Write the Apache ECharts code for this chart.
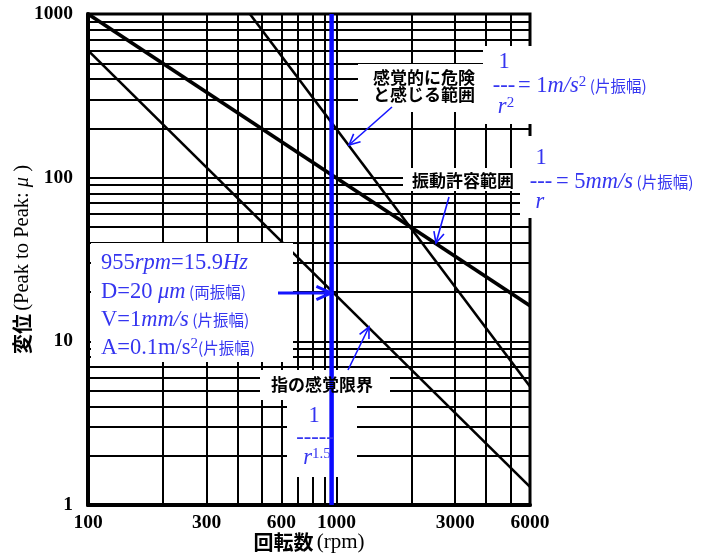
<!DOCTYPE html>
<html><head><meta charset="utf-8">
<script src="https://cdn.jsdelivr.net/npm/echarts@6/dist/echarts.min.js"></script>
<style>html,body{margin:0;padding:0;background:#fff}#c{width:701px;height:556px}</style>
</head><body><div id="c"></div>
<script>
// ---- data ----
const xTickLabels = [100, 300, 600, 1000, 3000, 6000];
const xGridValues = [100, 200, 300, 400, 500, 600, 700, 800, 900, 1000, 2000, 3000, 4000, 5000, 6000];
const yTickLabels = [1, 10, 100, 1000];
const yGridValues = [1, 2, 3, 4, 5, 6, 7, 8, 9, 10, 20, 30, 40, 50, 60, 70, 80, 90, 100, 200, 300, 400, 500, 600, 700, 800, 900, 1000];
// 1/r  (5mm/s)
const velocityRpm = [100, 6000];
const velocityDisp = [1000, 16.5];
// 1/r^2 (1m/s^2)
const accelRpm = [448, 6000];
const accelDisp = [1000, 5.3];
// 1/r^1.5 (finger sensing limit)
const fingerRpm = [100, 6000];
const fingerDisp = [600, 1.29];
// marker at 955 rpm
const markerRpm = [955, 955];
const markerDisp = [1, 1000];

const zip = (a, b) => a.map((v, i) => [v, b[i]]);
const serif = "'Liberation Serif','DejaVu Serif',serif";
const cjk = "'Noto Sans CJK JP','Noto Sans',sans-serif";
const blue = '#3535f0';
const arrowBlue = '#1515ff';

const chart = echarts.init(document.getElementById('c'), null, {renderer: 'canvas'});

const richBlue = {
  n: {fontFamily: serif, fontSize: 22.5, fill: blue},
  i: {fontFamily: serif, fontSize: 22.5, fontStyle: 'italic', fill: blue},
  sup: {fontFamily: serif, fontSize: 15, fill: blue, verticalAlign: 'top'},
  j: {fontFamily: cjk, fontSize: 15.5, fill: blue}
};

function txt(x, y, text, opts) {
  opts = opts || {};
  const align = opts.align || 'center';
  return {
    type: 'text', x: x, y: y, z: 30,
    style: Object.assign({
      text: text,
      align: align, textAlign: align,
      verticalAlign: 'middle', textVerticalAlign: 'middle',
      fill: opts.fill || '#000',
      font: opts.font || ('bold 17px ' + cjk)
    }, opts.rich ? {rich: opts.rich} : {})
  };
}
function rect(x, y, w, h) {
  return {type: 'rect', z: 5, shape: {x: x, y: y, width: w, height: h}, style: {fill: '#fff'}};
}
function arrow(x1, y1, x2, y2, w, head, spread) {
  const ang = Math.atan2(y2 - y1, x2 - x1);
  const h = head || 11, s = spread || 0.45;
  const p1 = [x2 - h * Math.cos(ang - s), y2 - h * Math.sin(ang - s)];
  const p2 = [x2 - h * Math.cos(ang + s), y2 - h * Math.sin(ang + s)];
  return [
    {type: 'line', z: 25, shape: {x1: x1, y1: y1, x2: x2, y2: y2}, style: {stroke: arrowBlue, lineWidth: w}},
    {type: 'polyline', z: 25, shape: {points: [p1, [x2, y2], p2]}, style: {stroke: arrowBlue, lineWidth: w, fill: 'none'}}
  ];
}

const graphics = [
  // white label boxes
  rect(358, 64, 126, 48),
  rect(483, 46, 190, 78),
  rect(403, 168, 118, 23),
  rect(520, 136, 181, 82),
  rect(91, 243, 202, 119),
  rect(260, 370, 130, 30),
  rect(287, 400, 70, 77),
  // black labels
  txt(424, 78, '感覚的に危険'),
  txt(424, 95, 'と感じる範囲'),
  txt(463, 181, '振動許容範囲'),
  txt(322, 385, '指の感覚限界'),
  // fraction 1/r^2
  txt(504, 62, '{n|1}', {rich: richBlue}),
  txt(504, 86, '{n|---}', {rich: richBlue}),
  txt(506, 107, '{i|r}{sup|2}', {rich: richBlue}),
  txt(518, 86, '{n|= 1}{i|m/s}{sup|2}{j| (片振幅)}', {rich: richBlue, align: 'left'}),
  // fraction 1/r
  txt(541, 158, '{n|1}', {rich: richBlue}),
  txt(541, 182, '{n|---}', {rich: richBlue}),
  txt(540, 202, '{i|r}', {rich: richBlue}),
  txt(556, 182, '{n|= 5}{i|mm/s}{j| (片振幅)}', {rich: richBlue, align: 'left'}),
  // fraction 1/r^1.5
  txt(314, 416, '{n|1}', {rich: richBlue}),
  txt(315, 438, '{n|-----}', {rich: richBlue}),
  txt(317, 458, '{i|r}{sup|1.5}', {rich: richBlue}),
  // info box
  txt(101, 263, '{n|955}{i|rpm}{n|=15.9}{i|Hz}', {rich: richBlue, align: 'left'}),
  txt(101, 292, '{n|D=20 }{i|μm}{j| (両振幅)}', {rich: richBlue, align: 'left'}),
  txt(101, 320, '{n|V=1}{i|mm/s}{j| (片振幅)}', {rich: richBlue, align: 'left'}),
  txt(101, 348, '{n|A=0.1m/s}{sup|2}{j|(片振幅)}', {rich: richBlue, align: 'left'})
]
  .concat(arrow(392, 107, 349, 145, 1.6, 12))
  .concat(arrow(449, 197, 436, 243, 1.6, 12))
  .concat(arrow(348, 370, 369, 327, 1.6, 12))
  .concat(arrow(278, 293, 331, 293, 3, 16, 0.42));

const option = {
  animation: false,
  backgroundColor: '#fff',
  grid: {left: 88, right: 171, top: 14, bottom: 51, show: true, borderColor: '#000', borderWidth: 3,
         backgroundColor: 'transparent', containLabel: false, outerBoundsMode: 'none'},
  xAxis: {
    type: 'log', logBase: 10, min: 100, max: 6000,
    axisLine: {show: true, onZero: false, lineStyle: {color: '#000', width: 4}},
    axisTick: {show: false, customValues: xGridValues},
    axisLabel: {customValues: xTickLabels, color: '#000', fontFamily: serif, fontWeight: 'bold', fontSize: 19.5,
                margin: 8, formatter: v => String(Math.round(v))},
    splitLine: {show: true, lineStyle: {color: '#000', width: 2}},
    minorTick: {show: false}, minorSplitLine: {show: false},
    name: '{c|回転数} {s|(rpm)}', nameLocation: 'middle', nameGap: 27, nameMoveOverlap: false,
    nameTextStyle: {rich: {c: {fontFamily: cjk, fontSize: 20, fontWeight: 'bold', color: '#000'},
                           s: {fontFamily: serif, fontSize: 21, color: '#000'}}}
  },
  yAxis: {
    type: 'log', logBase: 10, min: 1, max: 1000,
    axisLine: {show: true, onZero: false, lineStyle: {color: '#000', width: 4}},
    axisTick: {show: false, customValues: yGridValues},
    axisLabel: {customValues: yTickLabels, color: '#000', fontFamily: serif, fontWeight: 'bold', fontSize: 19.5,
                margin: 15, formatter: v => String(Math.round(v))},
    splitLine: {show: true, lineStyle: {color: '#000', width: 2}},
    minorTick: {show: false}, minorSplitLine: {show: false},
    name: '{c|変位} {s|(Peak to Peak: }{i|μ}{s| )}', nameLocation: 'middle', nameGap: 55, nameRotate: 90,
    nameMoveOverlap: false,
    nameTextStyle: {rich: {c: {fontFamily: cjk, fontSize: 20, fontWeight: 'bold', color: '#000'},
                           s: {fontFamily: serif, fontSize: 20.5, color: '#000'},
                           i: {fontFamily: serif, fontSize: 20.5, fontStyle: 'italic', color: '#000'}}}
  },
  series: [
    {type: 'line', data: zip(velocityRpm, velocityDisp), symbol: 'none', z: 3,
     lineStyle: {color: '#000', width: 3.8}},
    {type: 'line', data: zip(accelRpm, accelDisp), symbol: 'none', z: 3,
     lineStyle: {color: '#000', width: 2.6}},
    {type: 'line', data: zip(fingerRpm, fingerDisp), symbol: 'none', z: 3,
     lineStyle: {color: '#000', width: 2.6}},
    {type: 'line', data: zip(markerRpm, markerDisp), symbol: 'none', z: 20,
     lineStyle: {color: '#0a0aff', width: 4.5}}
  ],
  graphic: graphics
};
chart.setOption(option);
</script>
</body></html>
